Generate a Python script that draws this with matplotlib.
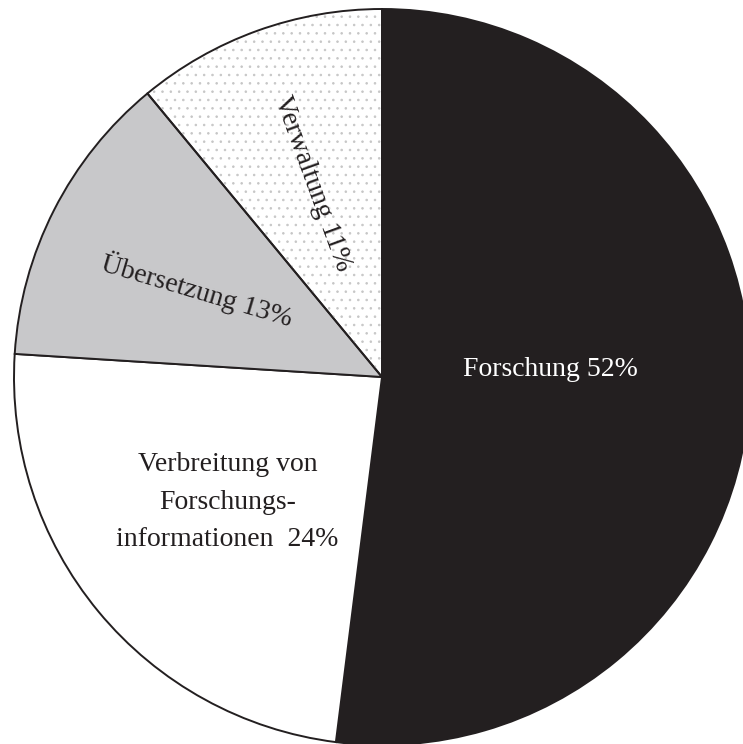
import numpy as np
import matplotlib.pyplot as plt
from matplotlib.patches import Wedge

plt.rcParams['font.family'] = ['Liberation Serif', 'DejaVu Serif']
plt.rcParams['hatch.linewidth'] = 0.6

# shares of the budget, clockwise from 12 o'clock
labels = ['Forschung 52%',
          'Verbreitung von\nForschungs-\ninformationen  24%',
          'Übersetzung 13%',
          'Verwaltung 11%']
shares = [52, 24, 13, 11]
colors = ['#231f20', '#ffffff', '#c8c8ca', '#ffffff']
hatches = [None, None, None, '..']

# label placement (fraction of radius, angle in degrees) and rotation
label_r = [0.457, 0.54, 0.556, 0.56]
label_ang = [2.4, 219.0, 154.8, 109.8]
label_rot = [0, 0, -16.5, -70]
label_col = ['white', '#231f20', '#231f20', '#231f20']

fig = plt.figure(figsize=(7.43, 7.44), dpi=100)
ax = fig.add_axes([0, 0, 1, 1])

wedges, _ = ax.pie(shares, colors=colors, startangle=90, counterclock=False,
                   radius=1.0, center=(0, 0),
                   wedgeprops=dict(edgecolor='#231f20', linewidth=1.4))

# light grey dot texture: separate patch so the hatch gets its own colour
for w, h in zip(wedges, hatches):
    if h:
        dots = Wedge(w.center, w.r, w.theta1, w.theta2, fill=False,
                     edgecolor='#c6c6c6', linewidth=0, hatch=h, zorder=w.get_zorder() + 0.1)
        ax.add_patch(dots)
        w.set_zorder(w.get_zorder() + 0.2)
        w.set_facecolor('none')

for lab, r, a, rot, c in zip(labels, label_r, label_ang, label_rot, label_col):
    x = r * np.cos(np.radians(a))
    y = r * np.sin(np.radians(a))
    ax.text(x, y, lab, ha='center', va='center', rotation=rot,
            rotation_mode='anchor', fontsize=20, color=c, linespacing=1.65, zorder=5)

scale = 368.0
ax.set_xlim(-382 / scale, (743 - 382) / scale)
ax.set_ylim(-(744 - 377) / scale, 377 / scale)
ax.set_aspect('auto')
ax.axis('off')

fig.savefig('out.png', dpi=100)
